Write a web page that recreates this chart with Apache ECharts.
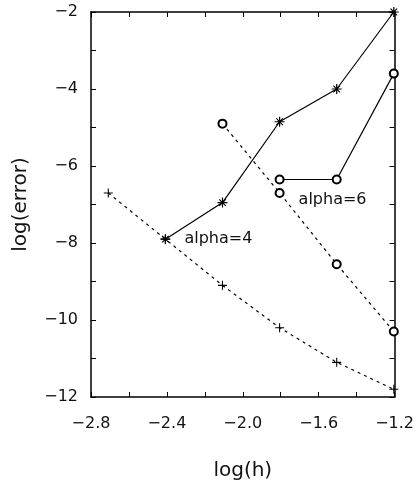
<!DOCTYPE html>
<html>
<head>
<meta charset="utf-8">
<script src="https://cdn.jsdelivr.net/npm/echarts@6/dist/echarts.min.js"></script>
<style>
  html, body { margin: 0; padding: 0; background: #fff; }
  #error-chart { width: 417px; height: 497px; }
</style>
</head>
<body>
<div id="error-chart"></div>
<script>
// log(h) for h = 1/512 ... 1/16
const logH = [-2.709, -2.408, -2.107, -1.806, -1.505, -1.204];
// alpha = 4
const alpha4Solid = [null, -7.9, -6.95, -4.85, -4.0, -2.0];
const alpha4Dashed = [-6.7, -7.9, -9.1, -10.2, -11.1, -11.8];
// alpha = 6
const alpha6Solid = [null, null, null, -6.35, -6.35, -3.6];
const alpha6Dashed = [null, null, -4.9, -6.7, -8.55, -10.3];
const annotations = ['alpha=4', 'alpha=6'];

const FONT = 'DejaVu Sans';
const starPath = 'path://M4.4,0H5.6V10H4.4Z M0,4.4H10V5.6H0Z M1.3,2.1L2.1,1.3L8.7,7.9L7.9,8.7Z M7.9,1.3L8.7,2.1L2.1,8.7L1.3,7.9Z';
const plusPath = 'path://M4.4,0H5.6V10H4.4Z M0,4.4H10V5.6H0Z';

function pairs(vals, labelIdx, labelText, labelOpt) {
  const out = [];
  vals.forEach((v, i) => {
    if (v === null) return;
    const item = { value: [logH[i], v] };
    if (i === labelIdx) {
      item.label = Object.assign({
        show: true,
        formatter: labelText,
        position: 'right',
        color: '#111',
        fontFamily: FONT,
        fontSize: 16
      }, labelOpt);
    }
    out.push(item);
  });
  return out;
}

const minus = s => s.replace('-', '\u2212');

const chart = echarts.init(document.getElementById('error-chart'));

const baseX = {
  type: 'value',
  min: -2.8,
  max: -1.2,
  interval: 0.2,
  axisLine: { show: true, onZero: false, lineStyle: { color: '#000', width: 1.5 } },
  axisTick: { show: true, inside: true, length: 5, lineStyle: { color: '#000' } },
  splitLine: { show: false }
};
const baseY = {
  type: 'value',
  min: -12,
  max: -2,
  interval: 1,
  axisLine: { show: true, onZero: false, lineStyle: { color: '#000', width: 1.5 } },
  axisTick: { show: true, inside: true, length: 5, lineStyle: { color: '#000' } },
  splitLine: { show: false }
};

const option = {
  backgroundColor: '#fff',
  animation: false,
  grid: { left: 91, right: 22, top: 12, bottom: 100 },
  xAxis: [
    Object.assign({}, baseX, {
      position: 'bottom',
      name: 'log(h)',
      nameLocation: 'middle',
      nameGap: 64,
      nameTextStyle: { color: '#111', fontFamily: FONT, fontSize: 20 },
      axisLabel: {
        color: '#111',
        fontFamily: FONT,
        fontSize: 16,
        margin: 19,
        formatter: v => (Math.round(v * 10) % 4 === 0 ? minus(v.toFixed(1)) : '')
      }
    }),
    Object.assign({}, baseX, { position: 'top', axisLabel: { show: false } })
  ],
  yAxis: [
    Object.assign({}, baseY, {
      position: 'left',
      name: 'log(error)',
      nameLocation: 'middle',
      nameGap: 60,
      nameRotate: 90,
      nameTextStyle: { color: '#111', fontFamily: FONT, fontSize: 20 },
      axisLabel: {
        color: '#111',
        fontFamily: FONT,
        fontSize: 16,
        margin: 13,
        formatter: v => (Math.round(v) % 2 === 0 ? minus(String(v)) : '')
      }
    }),
    Object.assign({}, baseY, { position: 'right', axisLabel: { show: false } })
  ],
  series: [
    {
      type: 'line',
      data: pairs(alpha4Solid, 1, annotations[0], { distance: 14 }),
      symbol: starPath,
      symbolSize: 10,
      symbolKeepAspect: true,
      itemStyle: { color: '#000' },
      lineStyle: { color: '#000', width: 1.2 }
    },
    {
      type: 'line',
      data: pairs(alpha4Dashed),
      symbol: plusPath,
      symbolSize: 9,
      symbolKeepAspect: true,
      itemStyle: { color: '#000' },
      lineStyle: { color: '#000', width: 1.2, type: [3, 4] }
    },
    {
      type: 'line',
      data: pairs(alpha6Solid),
      symbol: 'emptyCircle',
      symbolSize: 8,
      itemStyle: { color: '#000', borderWidth: 1 },
      lineStyle: { color: '#000', width: 1.2 }
    },
    {
      type: 'line',
      data: pairs(alpha6Dashed, 3, annotations[1], { distance: 14, offset: [0, 7] }),
      symbol: 'emptyCircle',
      symbolSize: 8,
      itemStyle: { color: '#000', borderWidth: 1 },
      lineStyle: { color: '#000', width: 1.2, type: [3, 4] }
    }
  ]
};

chart.setOption(option);
</script>
</body>
</html>
